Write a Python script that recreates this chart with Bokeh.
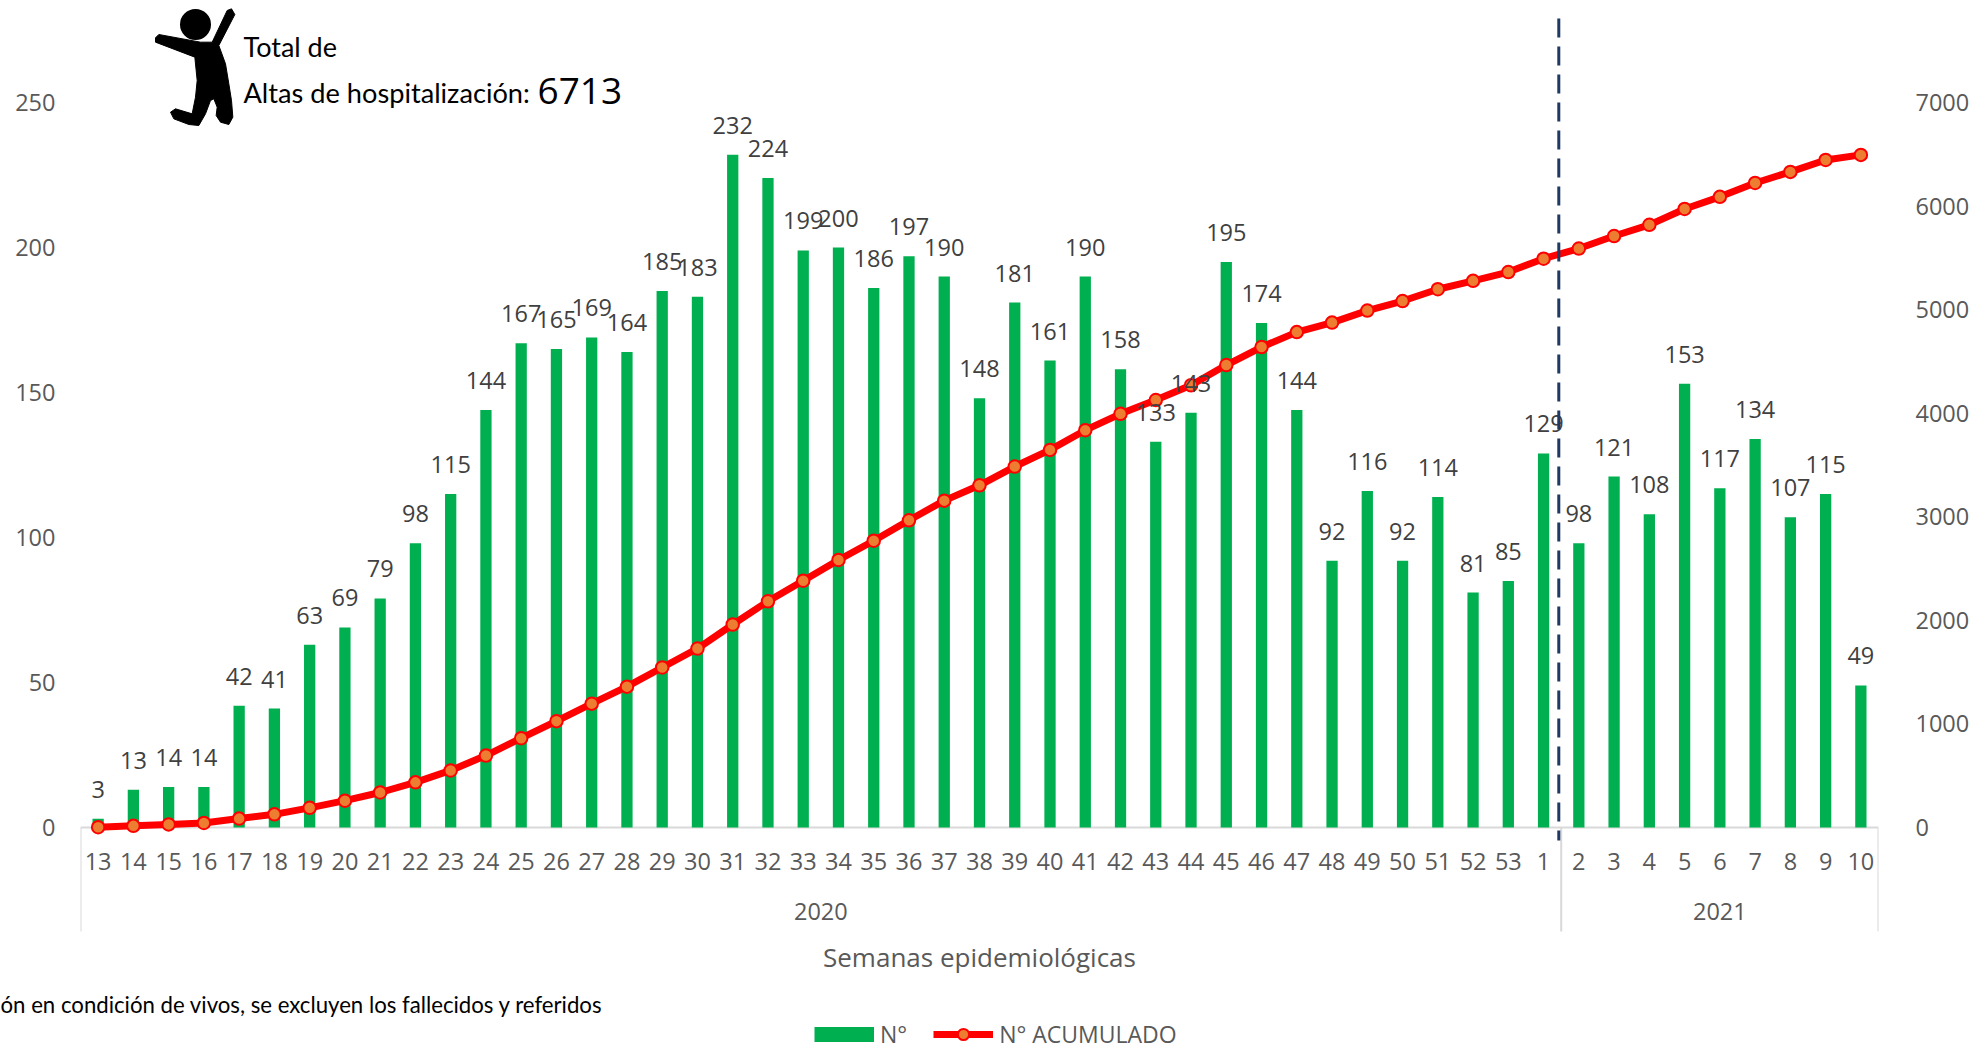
from bokeh.embed import file_html
from bokeh.layouts import column
from bokeh.resources import INLINE
from bokeh.plotting import figure
from bokeh.models import (FactorRange, Range1d, LinearAxis, FixedTicker, Label, Title,
                          Legend, LegendItem, ColumnDataSource)
from bokeh.core.properties import value

years = ["2020"] * 42 + ["2021"] * 9
weeks = [str(w) for w in range(13, 54)] + [str(w) for w in range(1, 11)]
altas = [3, 13, 14, 14, 42, 41, 63, 69, 79, 98, 115, 144, 167, 165, 169, 164, 185, 183, 232, 224,
         199, 200, 186, 197, 190, 148, 181, 161, 190, 158, 133, 143, 195, 174, 144, 92, 116, 92,
         114, 81, 85, 129, 98, 121, 108, 153, 117, 134, 107, 115, 49]
acumulado = [3, 16, 30, 44, 86, 127, 190, 259, 338, 436, 551, 695, 862, 1027, 1196, 1360, 1545,
             1728, 1960, 2184, 2383, 2583, 2769, 2966, 3156, 3304, 3485, 3646, 3836, 3994, 4127,
             4270, 4465, 4639, 4783, 4875, 4991, 5083, 5197, 5278, 5363, 5492, 5590, 5711, 5819,
             5972, 6089, 6223, 6330, 6445, 6494]
left_ticks = [0, 50, 100, 150, 200, 250]
right_ticks = [0, 1000, 2000, 3000, 4000, 5000, 6000, 7000]

GREEN, RED, ORANGE = "#00B050", "#FF0000", "#ED7D31"
GREY, DARK, RULE, NAVY = "#595959", "#404040", "#D9D9D9", "#1F3864"
SANS, LATO = "Open Sans", "Lato"

# the canvas fills the window; zero line at y=827; a title panel holds the footnote
WIDTH, HEIGHT = 1984, 1048
LEGEND_H = 28
PX_Y = 2.9
Y0 = 827
F_L, F_R, F_T, F_B = 80, 1878, 0, 988
STEP = (F_R - F_L) / len(weeks)
AXIS_RAISE = 11  # px; opens the gap between week and year labels


def px_x(px):
    return (px - F_L) / STEP


def px_y(py):
    return (Y0 - py) / PX_Y


factors = list(zip(years, weeks))
x_range = FactorRange(factors=factors, factor_padding=0, group_padding=0, subgroup_padding=0,
                      range_padding=0)
y_range = Range1d(px_y(F_B), px_y(F_T))

p = figure(frame_width=F_R - F_L, frame_height=F_B - F_T, output_backend="svg",
           toolbar_location=None,
           x_range=x_range, y_range=y_range, x_axis_location="below", y_axis_location="left",
           min_border_left=F_L, min_border_right=WIDTH - F_R, min_border_top=0,
           min_border_bottom=0,
           outline_line_color=None, background_fill_color="white", border_fill_color="white")
p.grid.visible = False

p.extra_y_ranges = {"acum": Range1d(px_y(F_B) * 28, px_y(F_T) * 28)}
right = LinearAxis(y_range_name="acum")
p.add_layout(right, "right")

for ax, ticks, standoff in ((p.yaxis[0], left_ticks, 19), (right, right_ticks, 31)):
    ax.ticker = FixedTicker(ticks=ticks)
    ax.axis_line_color = None
    ax.major_tick_line_color = None
    ax.minor_tick_line_color = None
    ax.major_label_text_font = SANS
    ax.major_label_text_font_size = "23.5px"
    ax.major_label_text_color = GREY
    ax.major_label_standoff = standoff

xa = p.xaxis[0]
xa.fixed_location = AXIS_RAISE / PX_Y
xa.axis_line_color = None
xa.major_tick_line_color = None
xa.minor_tick_line_color = None
xa.separator_line_alpha = 0
xa.major_label_orientation = "horizontal"
xa.group_label_orientation = "horizontal"
xa.major_label_text_font = SANS
xa.major_label_text_font_size = "23.5px"
xa.major_label_text_color = GREY
xa.major_label_standoff = 19 + AXIS_RAISE
xa.group_text_font = SANS
xa.group_text_font_size = "23.5px"
xa.group_text_color = GREY
xa.group_text_font_style = "normal"
xa.axis_label = "Semanas epidemiológicas"
xa.axis_label_text_font = SANS
xa.axis_label_text_font_size = "26px"
xa.axis_label_text_font_style = "normal"
xa.axis_label_text_color = GREY
xa.axis_label_standoff = 16

src = ColumnDataSource(dict(x=factors, altas=altas, acum=acumulado, lab=[str(v) for v in altas]))

# baseline and frames of the two-level category axis
p.segment(x0=[0, 0, 42, 51], x1=[51, 0, 42, 51], y0=[0, 0, 0, 0], y1=[0] + [px_y(931)] * 3,
          line_color=RULE, line_width=2)

p.vbar(x="x", top="altas", width=0.32, source=src, fill_color=GREEN, line_color=None)
p.line(x="x", y="acum", source=src, y_range_name="acum", line_color=RED, line_width=7)
p.scatter(x="x", y="acum", source=src, y_range_name="acum", marker="circle", size=12.5,
          fill_color=ORANGE, line_color=RED, line_width=2)

p.text(x="x", y="altas", text="lab", source=src, text_align="center", text_baseline="middle",
       y_offset=-29.5, text_font=value(SANS), text_font_size="23.5px", text_color=DARK)

# vertical dashed divider between years
p.segment(x0=[px_x(1558.3)], x1=[px_x(1558.3)], y0=[px_y(18)], y1=[px_y(840)],
          line_color=NAVY, line_width=3, line_dash="19 9")

# jumping-person pictogram
outline = [(30, 112), (40, 102), (165, 125), (200, 125), (245, 30), (258, 25), (268, 42),
           (220, 135), (240, 190), (250, 250), (258, 300), (262, 350), (250, 372), (225, 365),
           (212, 345), (215, 320), (205, 295), (195, 300), (180, 340), (160, 375), (130, 372),
           (85, 355), (75, 335), (90, 325), (140, 340), (150, 290), (155, 240), (148, 170),
           (30, 125)]
p.patch([px_x(145 + c / 3) for c, _ in outline], [px_y(r / 3) for _, r in outline],
        fill_color="black", line_color="black", line_width=1)
p.scatter(x=[px_x(195)], y=[px_y(24)], marker="circle", size=31, fill_color="black",
          line_color=None)


def note(text, px, py, size, font=LATO, color="black"):
    p.add_layout(Label(x=px - F_L, y=F_B - py, x_units="screen", y_units="screen", text=text,
                       text_font=font, text_font_size=size, text_color=color,
                       text_baseline="middle", text_align="left"))


note("Total de", 243, 46, "27px")
note("Altas de hospitalización:", 243, 92, "27.2px")
note("6713", 537, 90, "37px", font=SANS)

foot = Title(text="ón en condición de vivos, se excluyen los fallecidos y referidos", align="left",
             offset=-F_L, standoff=0, text_font=LATO, text_font_size="22.2px",
             text_font_style="normal", text_color="black")
p.add_layout(foot, "below")

# legend strip: a figure of its own below the chart, with keys that draw no data
strip = figure(width=WIDTH, height=LEGEND_H, output_backend="svg", toolbar_location=None,
               x_range=Range1d(0, WIDTH), y_range=Range1d(0, LEGEND_H), x_axis_type=None,
               y_axis_type=None, min_border=0, outline_line_color=None,
               background_fill_color="white", border_fill_color="white")
strip.grid.visible = False
nan = float("nan")
bar_key = strip.line(x=[0, 1], y=[nan, nan], line_color=GREEN, line_width=15, line_cap="butt")
line_key = strip.line(x=[0, 1], y=[nan, nan], line_color=RED, line_width=7)
dot_key = strip.scatter(x=[0, 1], y=[nan, nan], marker="circle", size=12.5, fill_color=ORANGE,
                        line_color=RED, line_width=2)
legend = Legend(items=[LegendItem(label="N°", renderers=[bar_key]),
                       LegendItem(label="N° ACUMULADO", renderers=[line_key, dot_key])],
                orientation="horizontal", location=(734, 0), margin=0, padding=0,
                spacing=26, glyph_width=60, glyph_height=LEGEND_H, label_standoff=6,
                label_height=LEGEND_H, label_text_font=SANS, label_text_font_size="23px",
                label_text_color=GREY, background_fill_alpha=0, border_line_color=None)
strip.add_layout(legend, "center")

page = column(p, strip, spacing=5)
open("out.html", "w").write(file_html(page, INLINE))
